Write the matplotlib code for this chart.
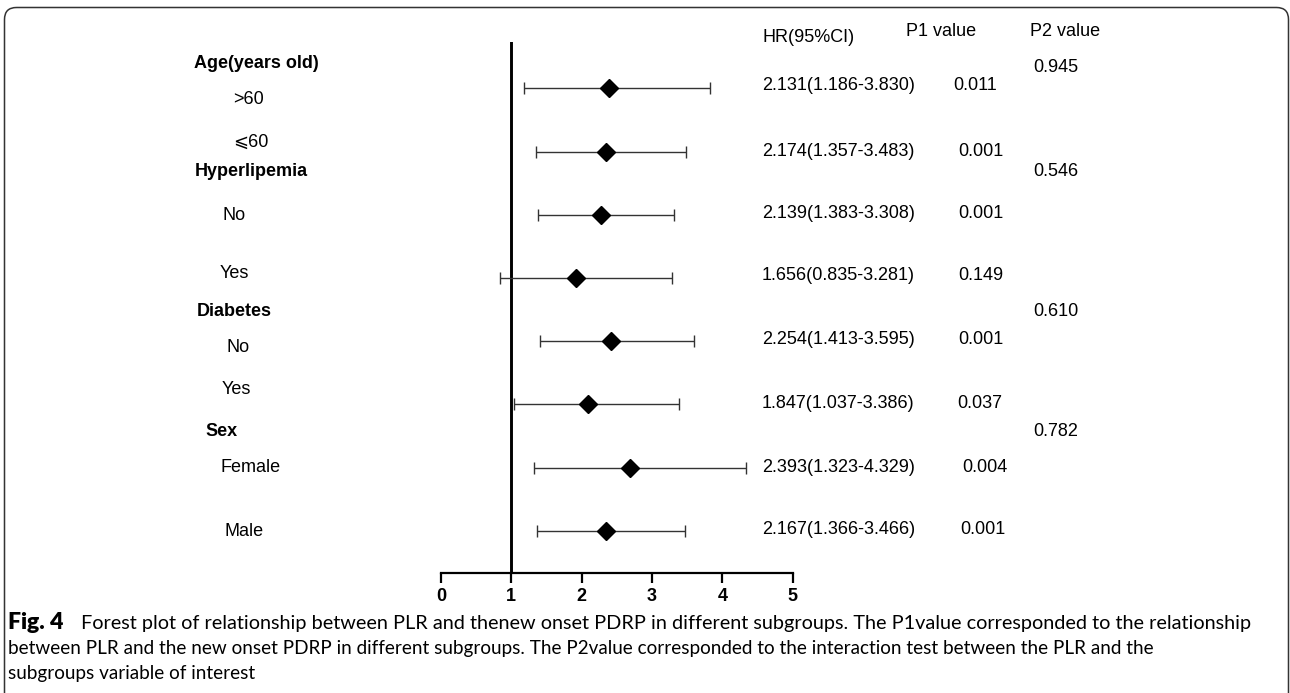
"""
Forest plot of PLR vs new onset PDRP by subgroup (Fig. 4 recreation).
"""

import matplotlib.pyplot as plt
from matplotlib.patches import FancyBboxPatch

# data, top row to bottom row
categories = ["Age(years old)", "Hyperlipemia", "Diabetes", "Sex"]
subgroups = [">60", "⩽60", "No", "Yes", "No", "Yes", "Female", "Male"]
hr = [2.131, 2.174, 2.139, 1.656, 2.254, 1.847, 2.393, 2.167]
ci_low = [1.186, 1.357, 1.383, 0.835, 1.413, 1.037, 1.323, 1.366]
ci_high = [3.830, 3.483, 3.308, 3.281, 3.595, 3.386, 4.329, 3.466]
# diamonds as drawn in the original figure (they sit off the HR value)
hr_mark = [2.39, 2.34, 2.27, 1.92, 2.42, 2.09, 2.68, 2.34]
p1 = ["0.011", "0.001", "0.001", "0.149", "0.001", "0.037", "0.004", "0.001"]
p2 = ["0.945", "0.546", "0.610", "0.782"]
x_ticks = [0, 1, 2, 3, 4, 5]

caption = [
    "Forest plot of relationship between PLR and thenew onset PDRP in different subgroups. "
    "The P1value corresponded to the relationship",
    "between PLR and the new onset PDRP in different subgroups. The P2value corresponded "
    "to the interaction test between the PLR and the",
    "subgroups variable of interest",
]

# layout in figure pixels (y measured from the top)
W, H = 1290, 693
row_y = [88, 151.5, 214.5, 278, 341, 404, 467.5, 530.5]
sub_x = [233, 233, 222, 220, 227, 222, 220, 225]
sub_y = [100, 142, 215, 273, 348, 390, 467, 531]
cat_x = [194, 195, 197, 205]
cat_y = [63, 172, 312, 431]
hr_y = [85, 151, 213, 275, 339, 403, 468, 530]
p1_x = [953, 958, 958, 958, 958, 957, 962, 960]
p2_y = [67, 172, 312, 432]

FONT = ["Liberation Sans", "DejaVu Sans"]
plt.rcParams["font.family"] = FONT

fig = plt.figure(figsize=(W / 100, H / 100), dpi=100)

# forest panel: x 0..5 spans px 441..793, y in pixel rows
x0, x1, y_top, y_axis = 441, 792.7, 42, 573
ax = fig.add_axes([x0 / W, (H - y_axis) / H, (x1 - x0) / W, (y_axis - y_top) / H])
ax.set_xlim(0, 5)
ax.set_ylim(y_axis, y_top)

ax.axvline(1, color="black", lw=2.1, zorder=1)
err_lo = [h - lo for h, lo in zip(hr_mark, ci_low)]
err_hi = [hi - h for h, hi in zip(hr_mark, ci_high)]
ax.errorbar(hr_mark, row_y, xerr=[err_lo, err_hi], fmt="none",
            ecolor="#333333", elinewidth=1, capsize=4.6, capthick=1, zorder=2)
ax.plot(hr_mark, row_y, "D", color="black", markersize=9.5, zorder=3)

for side in ["left", "top", "right"]:
    ax.spines[side].set_visible(False)
ax.spines["bottom"].set_linewidth(1.6)
ax.set_yticks([])
ax.set_xticks(x_ticks)
ax.set_xticklabels([str(t) for t in x_ticks], fontweight="bold", fontsize=13)
ax.tick_params(axis="x", length=7.5, width=1.6, direction="out", pad=3.5)
ax.patch.set_alpha(0)

# overlay in pixel coordinates for texts and frame
ov = fig.add_axes([0, 0, 1, 1])
ov.set_xlim(0, W)
ov.set_ylim(H, 0)
ov.axis("off")

frame = FancyBboxPatch((4.5, 7.5), 1284, 800, boxstyle="round,pad=0,rounding_size=12",
                       fill=False, ec="#333333", lw=1.1)
ov.add_patch(frame)

fs = 13
for name, x, y in zip(categories, cat_x, cat_y):
    ov.text(x, y, name, fontsize=fs, fontweight="bold", va="center", ha="left")
for name, x, y in zip(subgroups, sub_x, sub_y):
    ov.text(x, y, name, fontsize=fs, va="center", ha="left")

ov.text(762, 37, "HR(95%CI)", fontsize=fs, va="center")
ov.text(906, 32, "P1 value", fontsize=fs, va="center")
ov.text(1030, 32, "P2 value", fontsize=fs, va="center")

for h, lo, hi, y in zip(hr, ci_low, ci_high, hr_y):
    ov.text(762, y, f"{h:.3f}({lo:.3f}-{hi:.3f})", fontsize=fs, va="center")
for p, x, y in zip(p1, p1_x, hr_y):
    ov.text(x, y, p, fontsize=fs, va="center")
for p, y in zip(p2, p2_y):
    ov.text(1033, y, p, fontsize=fs, va="center")

# caption: each line's font size is fitted to the width it has in the original
cap_font = ["Lato", "DejaVu Sans"]
renderer = fig.canvas.get_renderer()


def fitted_text(x, y, s, target_w, **kw):
    """Place text, then rescale its size so it spans target_w pixels."""
    t = ov.text(x, y, s, fontsize=12, family=cap_font, va="baseline", **kw)
    w = t.get_window_extent(renderer).width
    t.set_fontsize(12 * target_w / w)
    return t


cap_fs = fitted_text(8, 654, caption[1], 1148 - 8).get_fontsize()
fitted_text(81, 629, caption[0], 1248 - 81)
ov.text(8, 629, "Fig. 4", fontsize=cap_fs * 1.22, family=cap_font,
        fontweight="heavy", va="baseline")
ov.text(8, 679, caption[2], fontsize=cap_fs, family=cap_font, va="baseline")

fig.savefig("out.png", dpi=100, facecolor="white")
